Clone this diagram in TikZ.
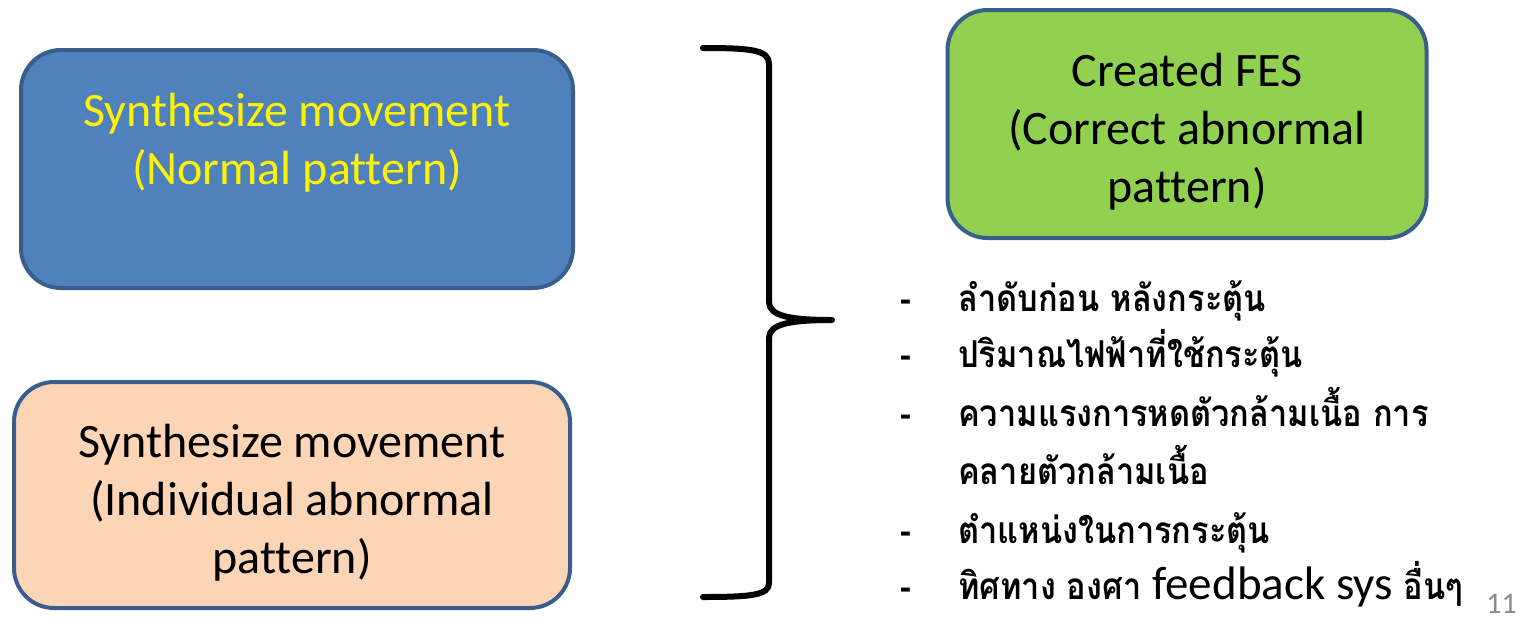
\documentclass[tikz,border=0pt]{standalone}
\usepackage{fontspec}
\setmainfont{Carlito}[Ligatures=CommonOff]
\newfontfamily\thaifont[Script=Thai, FakeStretch=0.88]{Loma}
\usetikzlibrary{positioning}

\definecolor{boxblue}{HTML}{4F81BD}
\definecolor{boxtan}{HTML}{FBD5B5}
\definecolor{boxgreen}{HTML}{92D050}
\definecolor{boxline}{HTML}{3A5E8C}
\definecolor{pagegray}{HTML}{8C8C8C}

\newcommand{\topstrut}{\rule{0pt}{48pt}}

\begin{document}
\begin{tikzpicture}[
  x=1pt, y=-1pt,
  every node/.style={inner sep=0pt},
  box/.style={draw=boxline, line width=4pt, rounded corners=40pt, align=center,
    font=\fontsize{48}{58}\selectfont},
  item/.style={anchor=base west, font=\thaifont\bfseries\fontsize{37}{44}\selectfont}
]
\useasboundingbox (0,0) rectangle (1523,619);

% left boxes
\node [box, fill=boxblue, text=yellow, minimum width=552pt, minimum height=238pt] (normal) at (297,169)
  {\topstrut Synthesize movement\\(Normal pattern)\\ \strut};
\node [box, fill=boxtan, minimum width=556pt, minimum height=226pt] (individual) at (292,495)
  {\topstrut Synthesize movement\\(Individual abnormal\\pattern)};

% right box
\node [box, fill=boxgreen, minimum width=479pt, minimum height=228pt] (fes) at (1187,124)
  {\topstrut Created FES\\(Correct abnormal\\pattern)};

% brace
\coordinate (bracetop) at (703,48);
\coordinate (bracetip) at (832,320);
\coordinate (bracebot) at (703,597);
\draw [line width=6pt, line cap=round, line join=round]
  (bracetop) .. controls (752,48) and (769,50) .. (769,64) -- (769,302)
  .. controls (769,316) and (790,320) .. (bracetip)
  .. controls (790,320) and (769,324) .. (769,338) -- (769,583)
  .. controls (769,595) and (752,597) .. (bracebot);

% list
\node [item] (item1) at (900,311) {\makebox[58pt][l]{-}ลำดับก่อน หลังกระตุ้น};
\node [item] (item2) at (900,367) {\makebox[58pt][l]{-}ปริมาณไฟฟ้าที่ใช้กระตุ้น};
\node [item] (item3) at (900,426) {\makebox[58pt][l]{-}ความแรงการหดตัวกล้ามเนื้อ การ};
\node [item] (item3b) at (958,484) {คลายตัวกล้ามเนื้อ};
\node [item] (item4) at (900,543) {\makebox[58pt][l]{-}ตำแหน่งในการกระตุ้น};
\node [item] (item5) at (900,599) {\makebox[58pt][l]{-}ทิศทาง องศา {\rmfamily\mdseries\fontsize{47}{56}\selectfont feedback sys} อื่นๆ};

\node [anchor=base east, text=pagegray, font=\fontsize{30}{34}\selectfont] (pagenum) at (1517,613) {11};
\end{tikzpicture}
\end{document}
